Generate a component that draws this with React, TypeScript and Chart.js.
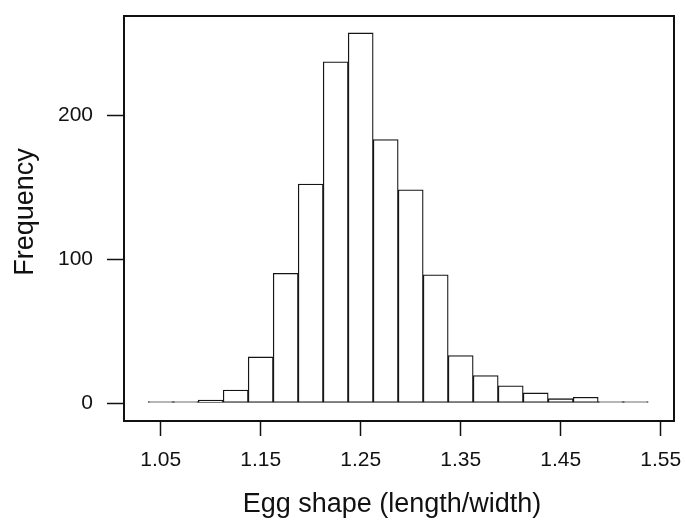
import React, { useEffect, useRef } from "react";
import { Chart, registerables } from "chart.js";

Chart.register(...registerables);

const binCenters = [1.05, 1.075, 1.1, 1.125, 1.15, 1.175, 1.2, 1.225, 1.25, 1.275, 1.3, 1.325, 1.35, 1.375, 1.4, 1.425, 1.45, 1.475, 1.5, 1.525];
const frequencies = [1, 1, 2, 9, 32, 90, 152, 237, 257, 183, 148, 89, 33, 19, 12, 7, 3, 4, 1, 1];
const xTicks = [1.05, 1.15, 1.25, 1.35, 1.45, 1.55];
const yTicks = [0, 100, 200];
const xTitle = "Egg shape (length/width)";
const yTitle = "Frequency";

const FONT = "'Liberation Sans', Arial, sans-serif";

const framePlugin = {
  id: "frameAndTitles",
  afterDraw(chart: any) {
    const { ctx, chartArea } = chart;
    ctx.save();
    ctx.strokeStyle = "#111";
    ctx.lineWidth = 2;
    ctx.strokeRect(chartArea.left, chartArea.top, chartArea.right - chartArea.left, chartArea.bottom - chartArea.top);
    ctx.fillStyle = "#111";
    ctx.font = `27px ${FONT}`;
    ctx.textAlign = "center";
    ctx.textBaseline = "middle";
    ctx.fillText(xTitle, 392, 505);
    ctx.translate(26, 212);
    ctx.rotate(-Math.PI / 2);
    ctx.fillText(yTitle, 0, 0);
    ctx.restore();
  },
};

export default function App() {
  const ref = useRef<HTMLCanvasElement | null>(null);
  useEffect(() => {
    if (!ref.current) return;
    const chart = new Chart(ref.current, {
      type: "bar",
      data: {
        datasets: [
          {
            data: binCenters.map((x, i) => ({ x, y: frequencies[i] })),
            backgroundColor: "#ffffff",
            borderColor: "#151515",
            borderWidth: 1.3,
            borderSkipped: false,
            barPercentage: 1,
            categoryPercentage: 1,
          },
        ],
      },
      options: {
        animation: false,
        responsive: false,
        maintainAspectRatio: false,
        layout: { padding: { top: 16, right: 12, left: 0, bottom: 0 } },
        plugins: { legend: { display: false }, tooltip: { enabled: false } },
        scales: {
          x: {
            type: "linear",
            offset: false,
            min: 1.0133,
            max: 1.5633,
            afterBuildTicks: (s: any) => {
              s.ticks = xTicks.map((v) => ({ value: v }));
            },
            afterFit: (s: any) => {
              s.height = 106;
              s.paddingLeft = 0;
              s.paddingRight = 0;
            },
            grid: { display: true, offset: false, drawOnChartArea: false, drawTicks: true, tickLength: 15, tickColor: "#111", tickWidth: 1.5 },
            border: { display: false },
            ticks: {
              autoSkip: false,
              maxRotation: 0,
              padding: 12,
              color: "#111",
              font: { family: FONT, size: 21 },
              callback: (v: any) => Number(v).toFixed(2),
            },
          },
          y: {
            type: "linear",
            min: -12.5,
            max: 268.75,
            afterBuildTicks: (s: any) => {
              s.ticks = yTicks.map((v) => ({ value: v }));
            },
            afterFit: (s: any) => {
              s.width = 124;
              s.paddingTop = 0;
              s.paddingBottom = 0;
            },
            grid: { display: true, drawOnChartArea: false, drawTicks: true, tickLength: 17, tickColor: "#111", tickWidth: 1.5 },
            border: { display: false },
            ticks: {
              padding: 14,
              color: "#111",
              font: { family: FONT, size: 21 },
              callback: (v: any) => String(v),
            },
          },
        },
      },
      plugins: [framePlugin],
    });
    return () => chart.destroy();
  }, []);
  return (
    <div style={{ position: "fixed", left: 0, top: 0, width: 686, height: 527, background: "#fff" }}>
      <canvas ref={ref} width={686} height={527} style={{ width: 686, height: 527, display: "block" }} />
    </div>
  );
}
